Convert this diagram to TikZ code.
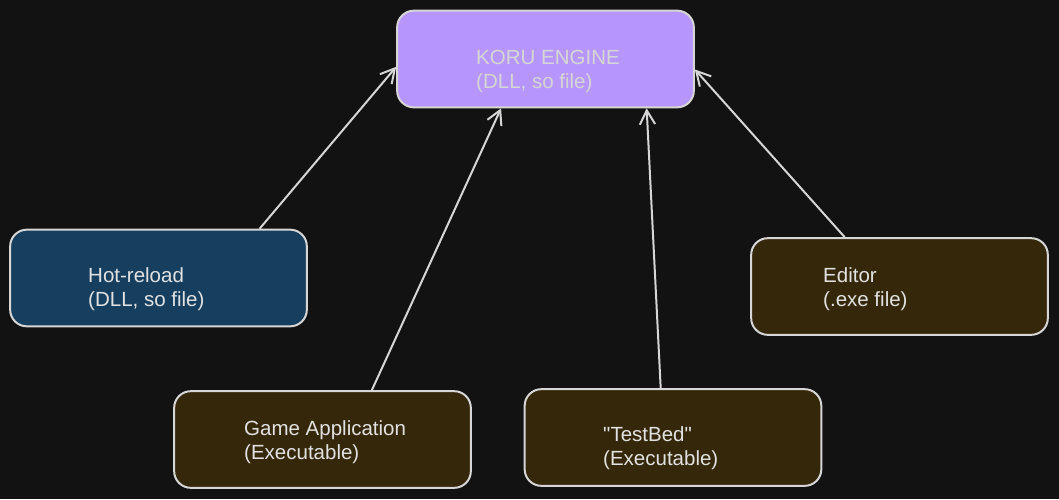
\documentclass[tikz,border=0pt]{standalone}
\usepackage{fontspec}
\setmainfont{Liberation Sans}
\usetikzlibrary{arrows.meta}
\definecolor{bgdark}{HTML}{121212}
\definecolor{strokegray}{HTML}{D6D6D6}
\definecolor{textgray}{HTML}{E2E2E2}
\definecolor{enginefill}{HTML}{B696FD}
\definecolor{reloadfill}{HTML}{163F5F}
\definecolor{exefill}{HTML}{352709}
\begin{document}
\begin{tikzpicture}[x=0.03cm,y=-0.03cm,
		modbox/.style={rectangle,rounded corners=0.5cm,draw=strokegray,line width=1.7pt,minimum width=8.9cm,minimum height=2.9cm,inner sep=0pt},
		modtext/.style={anchor=west,align=left,inner sep=0pt,text=textgray,font=\fontsize{17.5}{20.5}\selectfont},
		dep/.style={draw=strokegray,line width=1.7pt,-{Straight Barb[length=4.2mm,width=4.6mm]}}]
				\fill [bgdark] (0,0) rectangle (1059,499);
				\useasboundingbox (0,0) rectangle (1059,499);
				
				\node [modbox,fill=enginefill] (engine) at (545.5,59) {};
				\node [modbox,fill=reloadfill] (hotreload) at (158.5,278) {};
				\node [modbox,fill=exefill] (gameapp) at (322.5,439.5) {};
				\node [modbox,fill=exefill] (testbed) at (673,437.5) {};
				\node [modbox,fill=exefill] (editor) at (899.5,286.5) {};
				
				\node [modtext,text=strokegray] (enginetxt) at (476,71) {KORU ENGINE\\(DLL, so file)};
				\node [modtext] (hotreloadtxt) at (88,289) {Hot-reload\\(DLL, so file)};
				\node [modtext] (gameapptxt) at (244,442) {Game Application\\(Executable)};
				\node [modtext] (testbedtxt) at (603,448) {\textquotedbl TestBed\textquotedbl\\(Executable)};
				\node [modtext] (editortxt) at (823,289) {Editor\\(.exe file)};
				
				\draw [dep] (hotreload.26.7) -- (engine.183.7);
				\draw [dep] (gameapp.45.6) -- (engine.228.4);
				\draw [dep] (testbed.104.2) -- (engine.334);
				\draw [dep] (editor.138.8) -- (engine.356.4);
			\end{tikzpicture}
\end{document}
